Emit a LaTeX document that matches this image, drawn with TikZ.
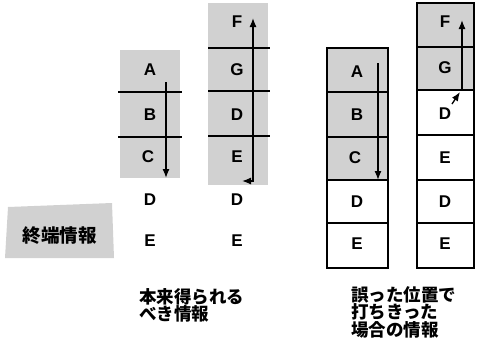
\documentclass[tikz,border=0pt]{standalone}
\usepackage{fontspec}
\setmainfont{Liberation Sans}
\newfontfamily\cjk{Noto Sans CJK JP}
\usetikzlibrary{arrows.meta}
\tikzset{
  rule/.style={line width=1.1pt, black},
  letter/.style={font=\fontsize{17}{17}\selectfont\bfseries, inner sep=0pt},
  cell/.style={line width=1.1pt, black},
  arr/.style={line width=1.3pt, -{Latex[length=9pt,width=7pt]}},
  caption/.style={font=\cjk\bfseries\fontsize{17.5}{16.5}\selectfont, align=left, inner sep=0pt, anchor=north west}
}
\colorlet{speck}{black!18}
\begin{document}
\begin{tikzpicture}[x=1pt,y=-1pt]
\useasboundingbox (0,0) rectangle (477,346);
% left label
\fill[speck] (8,207) -- (112,203) -- (114,258) -- (5,258) -- cycle;
\node[font=\cjk\bfseries\fontsize{18.5}{18.5}\selectfont, inner sep=0pt] (term) at (60,236) {終端情報};
% column 1
\fill[speck] (120,50) rectangle (180,178);
\draw[rule] (118,92) -- (182,92);
\draw[rule] (118,137) -- (182,137);
\node[letter] (a1) at (150,70) {A};
\node[letter] (b1) at (150,115) {B};
\node[letter] (c1) at (148,157) {C};
\node[letter] (d1) at (150,200) {D};
\node[letter] (e1) at (150,241) {E};
\coordinate (s1) at (166,82);
\coordinate (t1) at (166,178);
\draw[arr] (s1) -- (t1);
% column 2
\fill[speck] (208,3) rectangle (268,185);
\draw[rule] (208,48) -- (270,48);
\draw[rule] (208,91) -- (270,91);
\draw[rule] (208,136) -- (270,136);
\node[letter] (f2) at (237,22) {F};
\node[letter] (g2) at (237,70) {G};
\node[letter] (d2) at (237,115) {D};
\node[letter] (e2) at (237,157) {E};
\node[letter] (d2b) at (237,200) {D};
\node[letter] (e2b) at (237,241) {E};
\coordinate (s2) at (242,181);
\coordinate (m2) at (253,181);
\coordinate (t2) at (253,18);
\draw[line width=1.3pt, {Latex[length=9pt,width=7pt]}-{Latex[length=9pt,width=7pt]}] (s2) -- (m2) -- (t2);
% column 3
\fill[speck] (327,48) rectangle (388,180);
\draw[cell] (327,48) rectangle (388,268);
\draw[cell] (327,92) -- (388,92);
\draw[cell] (327,137) -- (388,137);
\draw[cell] (327,180) -- (388,180);
\draw[cell] (327,223) -- (388,223);
\node[letter] (a3) at (357,72) {A};
\node[letter] (b3) at (357,115) {B};
\node[letter] (c3) at (355,158) {C};
\node[letter] (d3) at (357,202) {D};
\node[letter] (e3) at (357,244) {E};
\coordinate (s3) at (378,63);
\coordinate (t3) at (378,180);
\draw[arr] (s3) -- (t3);
% column 4
\fill[speck] (417,3) rectangle (474,90);
\draw[cell] (417,3) rectangle (474,268);
\draw[cell] (417,47) -- (474,47);
\draw[cell] (417,90) -- (474,90);
\draw[cell] (417,135) -- (474,135);
\draw[cell] (417,180) -- (474,180);
\draw[cell] (417,223) -- (474,223);
\node[letter] (f4) at (445,22) {F};
\node[letter] (g4) at (445,68) {G};
\node[letter] (d4) at (445,114) {D};
\node[letter] (e4) at (445,158) {E};
\node[letter] (d4b) at (445,202) {D};
\node[letter] (e4b) at (445,244) {E};
\coordinate (s4) at (462,90);
\coordinate (t4) at (462,20);
\draw[arr] (s4) -- (t4);
\coordinate (u4) at (452,104);
\coordinate (v4) at (460,92);
\draw[arr] (u4) -- (v4);
% captions
\node[caption] (cap1) at (139,288) {本来得られる\\べき情報};
\node[caption] (cap2) at (351,286) {誤った位置で\\打ちきった\\場合の情報};
\end{tikzpicture}
\end{document}
